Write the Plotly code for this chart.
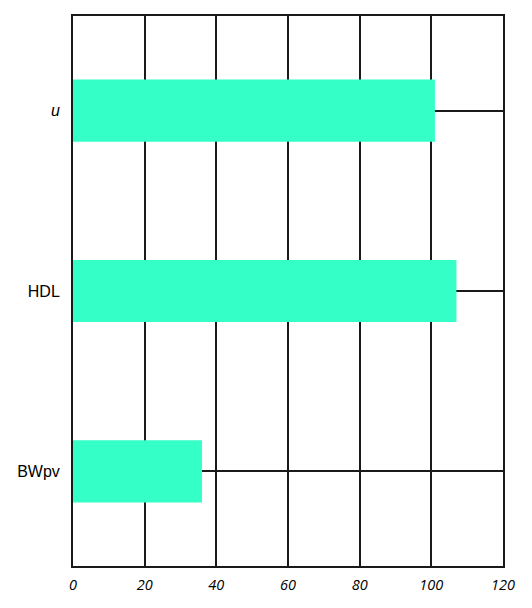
import plotly.graph_objects as go

categories = ["BWpv", "HDL", "<i>u</i>"]
values = [36, 107, 101]
x_ticks = [0, 20, 40, 60, 80, 100, 120]

fig = go.Figure(go.Bar(
    x=values, y=categories, orientation="h",
    marker=dict(color="#33FFC6", line=dict(width=0)),
    width=0.345,
))

fig.update_layout(
    width=524, height=600,
    margin=dict(l=65, r=29, t=8, b=42, autoexpand=False),
    plot_bgcolor="white", paper_bgcolor="white",
    showlegend=False,
    font=dict(family="Open Sans, Liberation Sans, sans-serif", color="black"),
)
fig.update_xaxes(
    range=[0, 120], tickvals=x_ticks, ticktext=[str(t) for t in x_ticks],
    showgrid=True, gridcolor="#1a1a1a", gridwidth=2,
    showline=True, linecolor="#1a1a1a", linewidth=2, mirror=True,
    zeroline=False, ticks="", ticklabelstandoff=5,
    tickfont=dict(size=14.5, style="italic", family="Open Sans, sans-serif"),
)
fig.update_yaxes(
    range=[-0.525, 2.525],
    showgrid=True, gridcolor="#1a1a1a", gridwidth=2,
    showline=True, linecolor="#1a1a1a", linewidth=2, mirror=True,
    ticks="", ticklabelstandoff=8,
    tickfont=dict(size=16, family="Liberation Sans, Arial, sans-serif"),
)

fig.write_html("out.html")
